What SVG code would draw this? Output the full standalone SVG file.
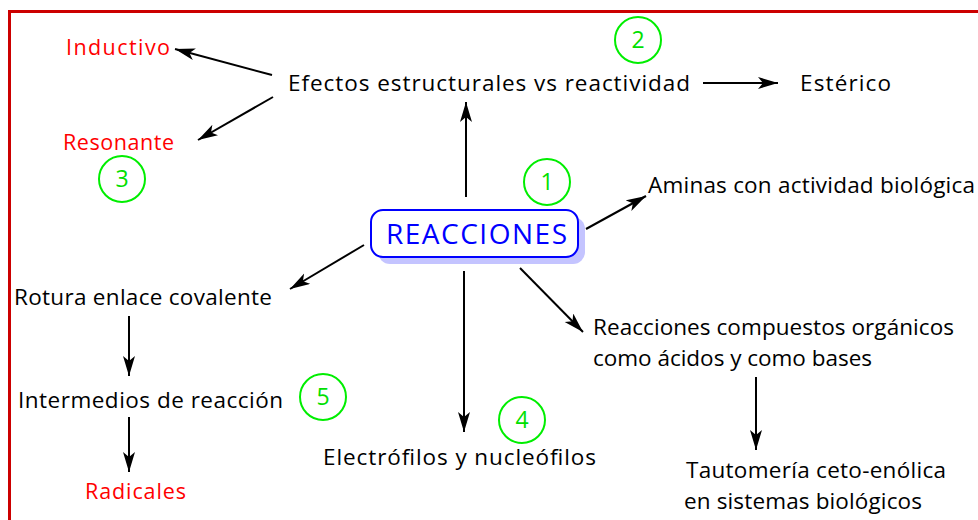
<svg xmlns="http://www.w3.org/2000/svg" width="978" height="520" viewBox="0 0 978 520">
<style>
text{font-family:"Open Sans","DejaVu Sans",sans-serif;}
.t{font-size:22.5px;fill:#000;}
.r{font-size:21.5px;fill:#FF0000;}
.n{font-size:23px;fill:#00E000;text-anchor:middle;}
.c{fill:none;stroke:#00EE00;stroke-width:2;}
.e{stroke:#000;stroke-width:2;fill:none;marker-end:url(#ah);}
</style>
<defs>
<marker id="ah" markerUnits="userSpaceOnUse" markerWidth="22" markerHeight="14" refX="20" refY="6" orient="auto">
<path d="M0,0 L20,6 L0,12 L5,6 z" fill="#000"/>
</marker>
</defs>
<rect x="0" y="0" width="978" height="520" fill="#fff"/>
<rect x="9.5" y="11.5" width="990" height="530" fill="none" stroke="#CC0000" stroke-width="3"/>

<g id="connectors">
<line class="e" x1="272" y1="75" x2="175" y2="49"/>
<line class="e" x1="273" y1="97" x2="198" y2="140"/>
<line class="e" x1="703" y1="83" x2="778" y2="83"/>
<line class="e" x1="466" y1="197" x2="466" y2="102"/>
<line class="e" x1="586" y1="229" x2="646" y2="196"/>
<line class="e" x1="364" y1="245" x2="290" y2="289"/>
<line class="e" x1="129" y1="316" x2="129" y2="376"/>
<line class="e" x1="129" y1="417" x2="129" y2="472"/>
<line class="e" x1="464" y1="271" x2="464" y2="432"/>
<line class="e" x1="520" y1="268" x2="583" y2="332"/>
<line class="e" x1="756" y1="377" x2="756" y2="450"/>
</g>

<g id="reacciones">
<rect x="378" y="217" width="207" height="47" rx="12" fill="#C4C4FF"/>
<rect x="371" y="210" width="207" height="47" rx="12" fill="#fff" stroke="#0000FF" stroke-width="2"/>
<text x="386" y="244" font-size="28" fill="#0000FF" textLength="181">REACCIONES</text>
</g>
<g id="efectos"><text class="t" x="288" y="91" textLength="402">Efectos estructurales vs reactividad</text></g>
<g id="inductivo"><text class="r" x="66" y="55" textLength="104">Inductivo</text></g>
<g id="resonante"><text class="r" x="63" y="150" textLength="111">Resonante</text></g>
<g id="esterico"><text class="t" x="800" y="91" textLength="91">Estérico</text></g>
<g id="aminas"><text class="t" x="648" y="193" textLength="327">Aminas con actividad biológica</text></g>
<g id="rotura"><text class="t" x="14" y="305" textLength="258">Rotura enlace covalente</text></g>
<g id="intermedios"><text class="t" x="18" y="408" textLength="265">Intermedios de reacción</text></g>
<g id="radicales"><text class="r" x="85" y="499" textLength="101">Radicales</text></g>
<g id="electrofilos"><text class="t" x="323" y="465" textLength="273">Electrófilos y nucleófilos</text></g>
<g id="acidobase">
<text class="t" x="593" y="335" textLength="361">Reacciones compuestos orgánicos</text>
<text class="t" x="593" y="366" textLength="279">como ácidos y como bases</text>
</g>
<g id="tautomeria">
<text class="t" x="686" y="478" textLength="260">Tautomería ceto-enólica</text>
<text class="t" x="684" y="509" textLength="238">en sistemas biológicos</text>
</g>

<g id="n1"><circle class="c" cx="547" cy="182" r="23"/><text class="n" x="547" y="190">1</text></g>
<g id="n2"><circle class="c" cx="638" cy="40" r="23"/><text class="n" x="638" y="48">2</text></g>
<g id="n3"><circle class="c" cx="122" cy="179" r="23"/><text class="n" x="122" y="187">3</text></g>
<g id="n4"><circle class="c" cx="522" cy="420" r="23"/><text class="n" x="522" y="428">4</text></g>
<g id="n5"><circle class="c" cx="323" cy="397" r="23"/><text class="n" x="323" y="405">5</text></g>
</svg>
